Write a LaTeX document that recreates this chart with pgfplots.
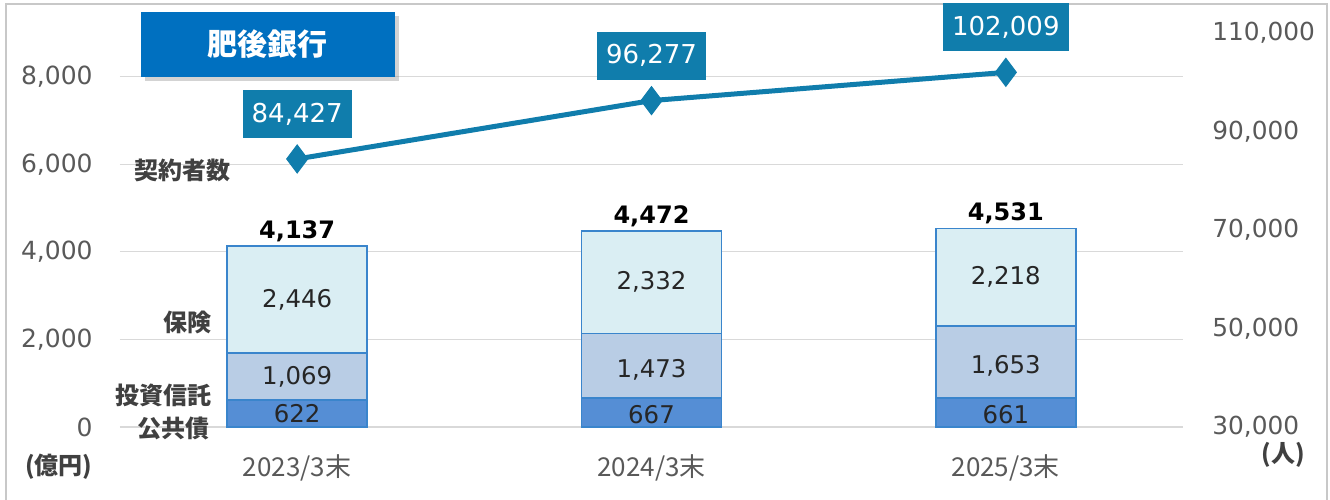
\documentclass[border=0pt]{standalone}
\usepackage{fontspec}
\setmainfont{DejaVu Sans}
\newfontfamily\jp{Noto Sans CJK JP}
\usepackage{pgfplots}
\pgfplotsset{compat=1.18}
\usepackage{pgfplotstable}
\usetikzlibrary{shadows}

\definecolor{titleblue}{HTML}{0070C0}
\definecolor{lineblue}{HTML}{107DAC}
\definecolor{barA}{HTML}{558ED5}
\definecolor{barB}{HTML}{B9CDE5}
\definecolor{barC}{HTML}{DAEEF3}
\definecolor{barEdge}{HTML}{3A85CC}
\definecolor{tickc}{HTML}{595959}
\definecolor{labc}{HTML}{404040}
\definecolor{gridc}{HTML}{D9D9D9}
\definecolor{framec}{HTML}{C8C8C8}

\pgfplotstableread{
x kokyo toshin hoken total
0 622 1069 2446 4137
1 667 1473 2332 4472
2 661 1653 2218 4531
}\bars

\pgfplotstableread{
x ypos label
0 311 622
0 1156 1,069
0 2914 2,446
1 280 667
1 1300 1,473
1 3306 2,332
2 280 661
2 1390 1,653
2 3420 2,218
}\barlabels

\pgfplotstableread{
x people
0 84427
1 96277
2 102009
}\people

\pgfplotsset{
  base/.style={
    at={(0,0)}, anchor=south west, scale only axis,
    width=531.5pt, height=197pt,
    xmin=-0.5, xmax=2.5,
    /pgf/number format/fixed,
    /pgf/number format/precision=0,
    /pgf/number format/1000 sep={,},
    /pgf/number format/assume math mode=true,
    scaled y ticks=false,
  }
}

\begin{document}
\begin{tikzpicture}
\useasboundingbox (-60pt,-36pt) rectangle (605pt,213.5pt);
\draw[color=framec, line width=0.9pt] (-57pt,-40pt) -- (-57pt,211.5pt) -- (603.5pt,211.5pt) -- (603.5pt,-40pt);

% stacked bars, left axis
\begin{axis}[base,
  ymin=0, ymax=9000,
  ybar stacked, bar width=70pt,
  axis line style={draw=none},
  tick style={draw=none},
  ytick={0,2000,4000,6000,8000},
  ymajorgrids, grid style={gridc, line width=0.6pt},
  xtick={0,1,2}, xticklabels={2023/3末,2024/3末,2025/3末},
  xticklabel style={anchor=center, yshift=-20.5pt, font=\jp\fontsize{13}{15}\selectfont, text=tickc},
  yticklabel style={anchor=east, inner sep=0pt, xshift=-13.5pt, font=\fontsize{12.5}{14}\selectfont, text=tickc},
]
\addplot[fill=barA, draw=barEdge, line width=0.8pt] table[x=x,y=kokyo]{\bars};
\addplot[fill=barB, draw=barEdge, line width=0.8pt] table[x=x,y=toshin]{\bars};
\addplot[fill=barC, draw=barEdge, line width=0.8pt] table[x=x,y=hoken]{\bars};
\end{axis}

% labels on bars
\begin{axis}[base, ymin=0, ymax=9000, hide axis, clip=false]
\addplot[only marks, mark=none, nodes near coords, point meta=explicit symbolic,
  nodes near coords style={anchor=center, inner sep=0pt, font=\fontsize{12.2}{14}\selectfont, text=black!85}]
  table[x=x,y=ypos,meta=label]{\barlabels};
\addplot[only marks, mark=none, nodes near coords,
  nodes near coords style={anchor=center, inner sep=0pt, yshift=7.5pt, font=\bfseries\fontsize{12}{14}\selectfont, text=black}]
  table[x=x,y=total]{\bars};
\end{axis}

% line, right axis
\begin{axis}[base,
  ymin=30000, ymax=110000,
  axis x line=none, axis y line*=right,
  axis line style={draw=none}, tick style={draw=none},
  ytick={30000,50000,70000,90000,110000},
  yticklabel style={anchor=west, inner sep=0pt, xshift=14.5pt, font=\fontsize{12.4}{14}\selectfont, text=tickc},
  clip=false,
]
\addplot[lineblue, line width=2.5pt, mark=diamond*, mark size=7pt,
  mark options={solid, fill=lineblue, draw=lineblue, line width=0.5pt},
  nodes near coords,
  nodes near coords style={anchor=center, fill=lineblue, text=white, inner xsep=4.5pt, inner ysep=0pt,
    minimum height=24pt, yshift=22.5pt, font=\fontsize{13}{15}\selectfont}]
  table[x=x,y=people]{\people};
\end{axis}

% title and side labels
\node[fill=titleblue, minimum width=127pt, minimum height=32.5pt, text=white,
  font=\jp\bfseries\fontsize{15}{18}\selectfont,
  drop shadow={opacity=0.35, shadow xshift=2pt, shadow yshift=-2pt}] at (74pt,191.25pt) {肥後銀行};
\begin{scope}[every node/.style={inner sep=0pt, text=labc, font=\jp\bfseries\fontsize{12}{14}\selectfont}]
\node[anchor=east] at (55.5pt,128.5pt) {契約者数};
\node[anchor=east] at (46pt,52.5pt) {保険};
\node[anchor=east] at (46pt,16pt) {投資信託};
\node[anchor=east] at (45pt,-0.5pt) {公共債};
\node[anchor=east] at (-13.5pt,-20pt) {(億円)};
\node[anchor=east] at (592.5pt,-14pt) {(人)};
\end{scope}
\end{tikzpicture}
\end{document}
